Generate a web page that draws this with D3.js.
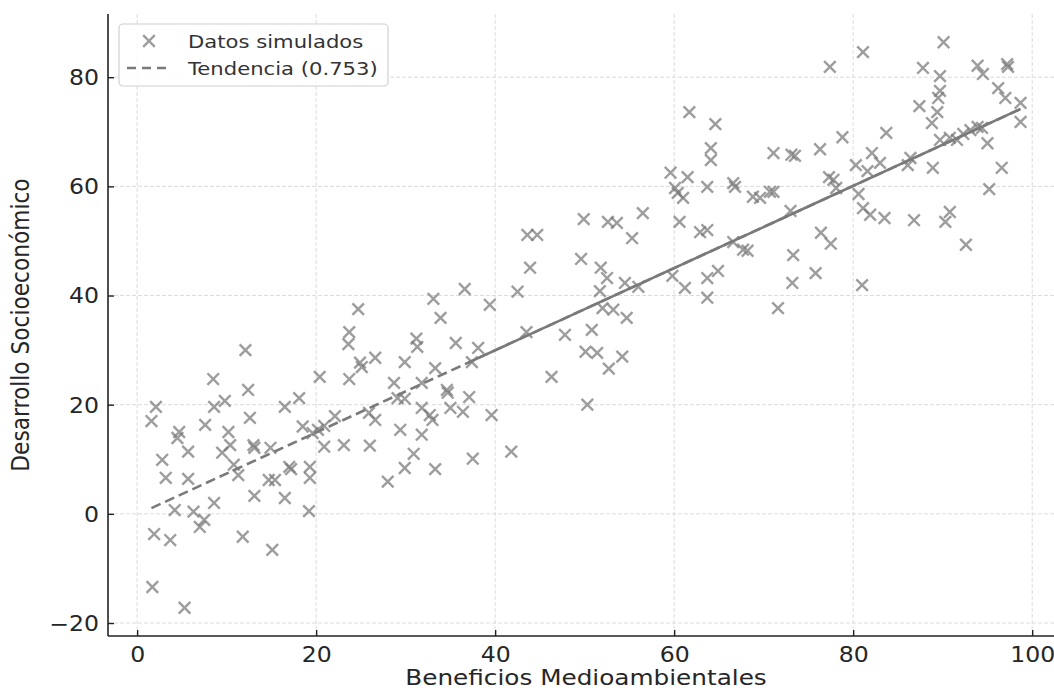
<!DOCTYPE html>
<html>
<head>
<meta charset="utf-8">
<script src="https://cdn.jsdelivr.net/npm/d3@7"></script>
<style>
  html, body { margin: 0; padding: 0; background: #fff; }
  svg { display: block; font-family: "DejaVu Sans", sans-serif; }
</style>
</head>
<body>
<svg id="chart" width="1054" height="693"></svg>
<script>
// ---- data ----
const beneficios = [
  1.6, 2.1, 1.9, 1.7, 2.8, 3.2, 3.7, 4.7, 4.5, 4.2, 5.3, 5.7, 5.7, 6.3, 7.0, 7.5, 7.6, 8.5, 8.6, 8.6,
  9.5, 9.8, 10.2, 10.4, 10.8, 11.3, 11.8, 12.1, 12.4, 12.6, 13.0, 13.1, 13.1, 14.7, 15.4, 15.1, 14.9, 16.5, 16.5, 17.0,
  17.2, 18.1, 18.5, 19.6, 19.3, 19.3, 19.2, 20.2, 20.9, 20.4, 20.9, 22.1, 23.1, 23.6, 23.7, 23.7, 24.7, 24.9, 25.1, 25.9,
  26.0, 26.6, 26.6, 28.0, 28.7, 29.1, 29.9, 29.4, 29.9, 29.9, 30.9, 31.2, 31.3, 31.8, 31.8, 32.7, 31.8, 33.0, 33.1, 33.3,
  33.3, 33.9, 34.6, 34.7, 35.0, 35.6, 36.4, 36.6, 37.1, 37.4, 37.5, 38.1, 39.4, 39.6, 41.8, 42.5, 43.5, 43.6, 44.7, 43.9,
  46.3, 47.8, 49.6, 49.9, 50.3, 50.1, 50.8, 51.4, 51.8, 51.7, 52.5, 52.6, 52.0, 52.7, 53.2, 53.6, 54.2, 54.5, 54.7, 55.3,
  56.0, 56.5, 59.6, 59.8, 60.1, 60.4, 60.6, 61.0, 61.2, 61.5, 61.7, 62.9, 63.7, 63.7, 63.7, 63.7, 64.1, 64.1, 64.6, 64.9,
  66.6, 66.6, 66.8, 67.7, 68.2, 68.8, 69.6, 70.7, 71.1, 71.1, 71.6, 73.0, 73.1, 73.5, 73.3, 73.2, 75.8, 76.3, 76.4, 77.4,
  77.3, 77.8, 77.5, 78.1, 78.8, 80.3, 80.6, 81.0, 81.1, 81.1, 81.6, 82.1, 81.9, 83.0, 83.5, 83.7, 86.1, 86.4, 86.8, 87.4,
  87.8, 88.8, 88.9, 89.4, 89.5, 89.7, 89.7, 90.1, 89.7, 90.3, 90.8, 90.8, 91.6, 92.3, 92.6, 93.1, 93.9, 94.4, 93.9, 94.5,
  95.0, 95.2, 96.2, 96.6, 97.0, 97.2, 97.3, 98.7, 98.7
];
const desarrollo = [
  17.0, 19.6, -3.7, -13.4, 9.9, 6.6, -4.8, 15.0, 13.9, 0.7, -17.2, 11.4, 6.4, 0.4, -2.4, -1.1, 16.3, 24.7, 2.0, 19.6,
  11.2, 20.7, 15.0, 12.6, 9.0, 7.1, -4.2, 30.0, 22.7, 17.6, 12.6, 12.1, 3.3, 6.2, 6.2, -6.6, 12.1, 19.6, 2.9, 8.6,
  8.2, 21.2, 16.0, 14.8, 8.6, 6.6, 0.5, 15.4, 16.1, 25.1, 12.3, 17.9, 12.6, 31.1, 33.3, 24.7, 37.5, 27.7, 26.9, 18.5,
  12.5, 17.2, 28.6, 5.9, 24.0, 21.2, 21.1, 15.4, 27.8, 8.4, 11.0, 32.1, 30.6, 24.0, 19.4, 18.1, 14.5, 17.2, 39.4, 26.7,
  8.2, 35.9, 22.7, 22.2, 19.4, 31.3, 18.7, 41.2, 21.4, 27.8, 10.1, 30.4, 38.3, 18.1, 11.4, 40.7, 33.3, 51.1, 51.1, 45.1,
  25.1, 32.8, 46.7, 54.0, 20.0, 29.7, 33.7, 29.5, 45.1, 40.8, 43.2, 53.5, 37.7, 26.6, 37.4, 53.3, 28.8, 42.3, 35.9, 50.5,
  41.6, 55.1, 62.5, 43.6, 59.7, 58.8, 53.5, 57.9, 41.4, 61.7, 73.6, 51.6, 52.0, 59.9, 43.2, 39.6, 67.0, 64.8, 71.4, 44.5,
  49.8, 60.6, 59.9, 48.4, 48.2, 58.1, 57.9, 59.0, 59.0, 66.1, 37.7, 55.5, 65.8, 65.6, 47.4, 42.3, 44.1, 66.8, 51.5, 81.9,
  61.7, 61.2, 49.5, 59.7, 69.0, 63.9, 58.6, 41.9, 84.6, 56.0, 62.8, 66.1, 54.8, 64.3, 54.2, 69.8, 63.9, 65.2, 53.8, 74.7,
  81.7, 71.6, 63.4, 73.6, 76.2, 77.5, 80.2, 86.4, 68.5, 53.5, 55.3, 68.9, 68.5, 69.6, 49.3, 70.3, 70.9, 70.7, 82.1, 80.6,
  67.9, 59.5, 78.0, 63.4, 76.2, 82.4, 81.9, 75.3, 71.8
];
const trendSlope = 0.753;
const trendIntercept = -0.15;
const solidFrom = 37;           // where the overlapping dashes look solid
const xTicks = [0, 20, 40, 60, 80, 100];
const yTicks = [-20, 0, 20, 40, 60, 80];
const legendLabels = ["Datos simulados", "Tendencia (0.753)"];
const xLabel = "Beneficios Medioambientales";
const yLabel = "Desarrollo Socioeconómico";

// ---- layout ----
const SX = 1.15;  // horizontal text stretch seen in the reference
const plot = { left: 108, right: 1064, top: 14, bottom: 636 };
const svg = d3.select("#chart");

const points = beneficios.map((b, i) => ({ x: b, y: desarrollo[i] }));
const xExt = d3.extent(beneficios), yExt = d3.extent(desarrollo);
const xPad = (xExt[1] - xExt[0]) * 0.05, yPad = (yExt[1] - yExt[0]) * 0.05;

const x = d3.scaleLinear().domain([xExt[0] - xPad, xExt[1] + xPad]).range([plot.left, plot.right]);
const y = d3.scaleLinear().domain([yExt[0] - yPad, yExt[1] + yPad]).range([plot.bottom, plot.top]);

// grid
const grid = svg.append("g");
grid.selectAll("line.gx").data(xTicks).join("line")
  .attr("x1", d => x(d)).attr("x2", d => x(d))
  .attr("y1", plot.top).attr("y2", plot.bottom)
  .attr("stroke", "#dcdcdc").attr("stroke-width", 1).attr("stroke-dasharray", "4,2");
grid.selectAll("line.gy").data(yTicks).join("line")
  .attr("y1", d => y(d)).attr("y2", d => y(d))
  .attr("x1", plot.left).attr("x2", plot.right)
  .attr("stroke", "#dcdcdc").attr("stroke-width", 1).attr("stroke-dasharray", "4,2");

// axes
const fmt = d3.format("");
const xAxis = svg.append("g").attr("transform", `translate(0,${plot.bottom})`)
  .call(d3.axisBottom(x).tickValues(xTicks).tickFormat(fmt).tickSizeInner(-6).tickSizeOuter(0).tickPadding(15));
const yAxis = svg.append("g").attr("transform", `translate(${plot.left},0)`)
  .call(d3.axisLeft(y).tickValues(yTicks).tickFormat(fmt).tickSizeInner(-6).tickSizeOuter(0).tickPadding(15));

[xAxis, yAxis].forEach(g => {
  g.select(".domain").attr("stroke", "#222").attr("stroke-width", 1.6);
  g.selectAll(".tick line").attr("stroke", "#222").attr("stroke-width", 1.4);
  g.selectAll(".tick text").attr("fill", "#262626").attr("font-size", "20.5px")
    .attr("font-family", "DejaVu Sans, sans-serif");
});
xAxis.selectAll(".tick text").attr("y", 0).attr("dy", 0)
  .attr("transform", `translate(0,26) scale(${SX},1)`);
yAxis.selectAll(".tick text").attr("x", 0).attr("dy", "0.36em")
  .attr("transform", `translate(-9,0) scale(${SX},1)`);
yAxis.select(".domain").attr("d", `M0,${plot.bottom}V${plot.top}`);
xAxis.select(".domain").attr("d", `M${plot.left},0H${plot.right}`);

// axis labels
svg.append("text")
  .attr("transform", `translate(${(plot.left + plot.right) / 2},685) scale(${SX},1)`)
  .attr("text-anchor", "middle").attr("font-size", "21.5px").attr("fill", "#262626")
  .text(xLabel);
svg.append("text")
  .attr("transform", `translate(29,${(plot.top + plot.bottom) / 2}) scale(${SX},1) rotate(-90)`)
  .attr("text-anchor", "middle").attr("font-size", "21.7px").attr("fill", "#262626")
  .text(yLabel);

// scatter "x" markers
const r = 5.8;
const xMark = (cx, cy) => `M${cx - r},${cy - r}L${cx + r},${cy + r}M${cx - r},${cy + r}L${cx + r},${cy - r}`;
svg.append("g").selectAll("path").data(points).join("path")
  .attr("d", d => xMark(x(d.x), y(d.y)))
  .attr("stroke", "#777").attr("stroke-opacity", 0.72).attr("stroke-width", 2.4).attr("fill", "none");

// trend line
const f = v => trendSlope * v + trendIntercept;
svg.append("line")
  .attr("x1", x(xExt[0])).attr("y1", y(f(xExt[0])))
  .attr("x2", x(xExt[1])).attr("y2", y(f(xExt[1])))
  .attr("stroke", "#7a7a7a").attr("stroke-width", 2.6).attr("stroke-dasharray", "10,5");
svg.append("line")
  .attr("x1", x(solidFrom)).attr("y1", y(f(solidFrom)))
  .attr("x2", x(xExt[1])).attr("y2", y(f(xExt[1])))
  .attr("stroke", "#7a7a7a").attr("stroke-width", 2.6);

// legend
const lg = svg.append("g");
lg.append("rect").attr("x", 119).attr("y", 24).attr("width", 269).attr("height", 62).attr("rx", 4)
  .attr("fill", "#fff").attr("fill-opacity", 0.85).attr("stroke", "#d0d0d0").attr("stroke-width", 1.2);
lg.append("path").attr("d", xMark(149, 41))
  .attr("stroke", "#777").attr("stroke-opacity", 0.72).attr("stroke-width", 2.4).attr("fill", "none");
lg.append("line").attr("x1", 127).attr("x2", 170).attr("y1", 68).attr("y2", 68)
  .attr("stroke", "#7a7a7a").attr("stroke-width", 2.6).attr("stroke-dasharray", "9,6");
lg.selectAll("text").data(legendLabels).join("text")
  .attr("transform", (d, i) => `translate(188,${41 + i * 27}) scale(${SX},1)`)
  .attr("dy", "0.36em").attr("font-size", "18.4px").attr("fill", "#333")
  .text(d => d);
</script>
</body>
</html>
